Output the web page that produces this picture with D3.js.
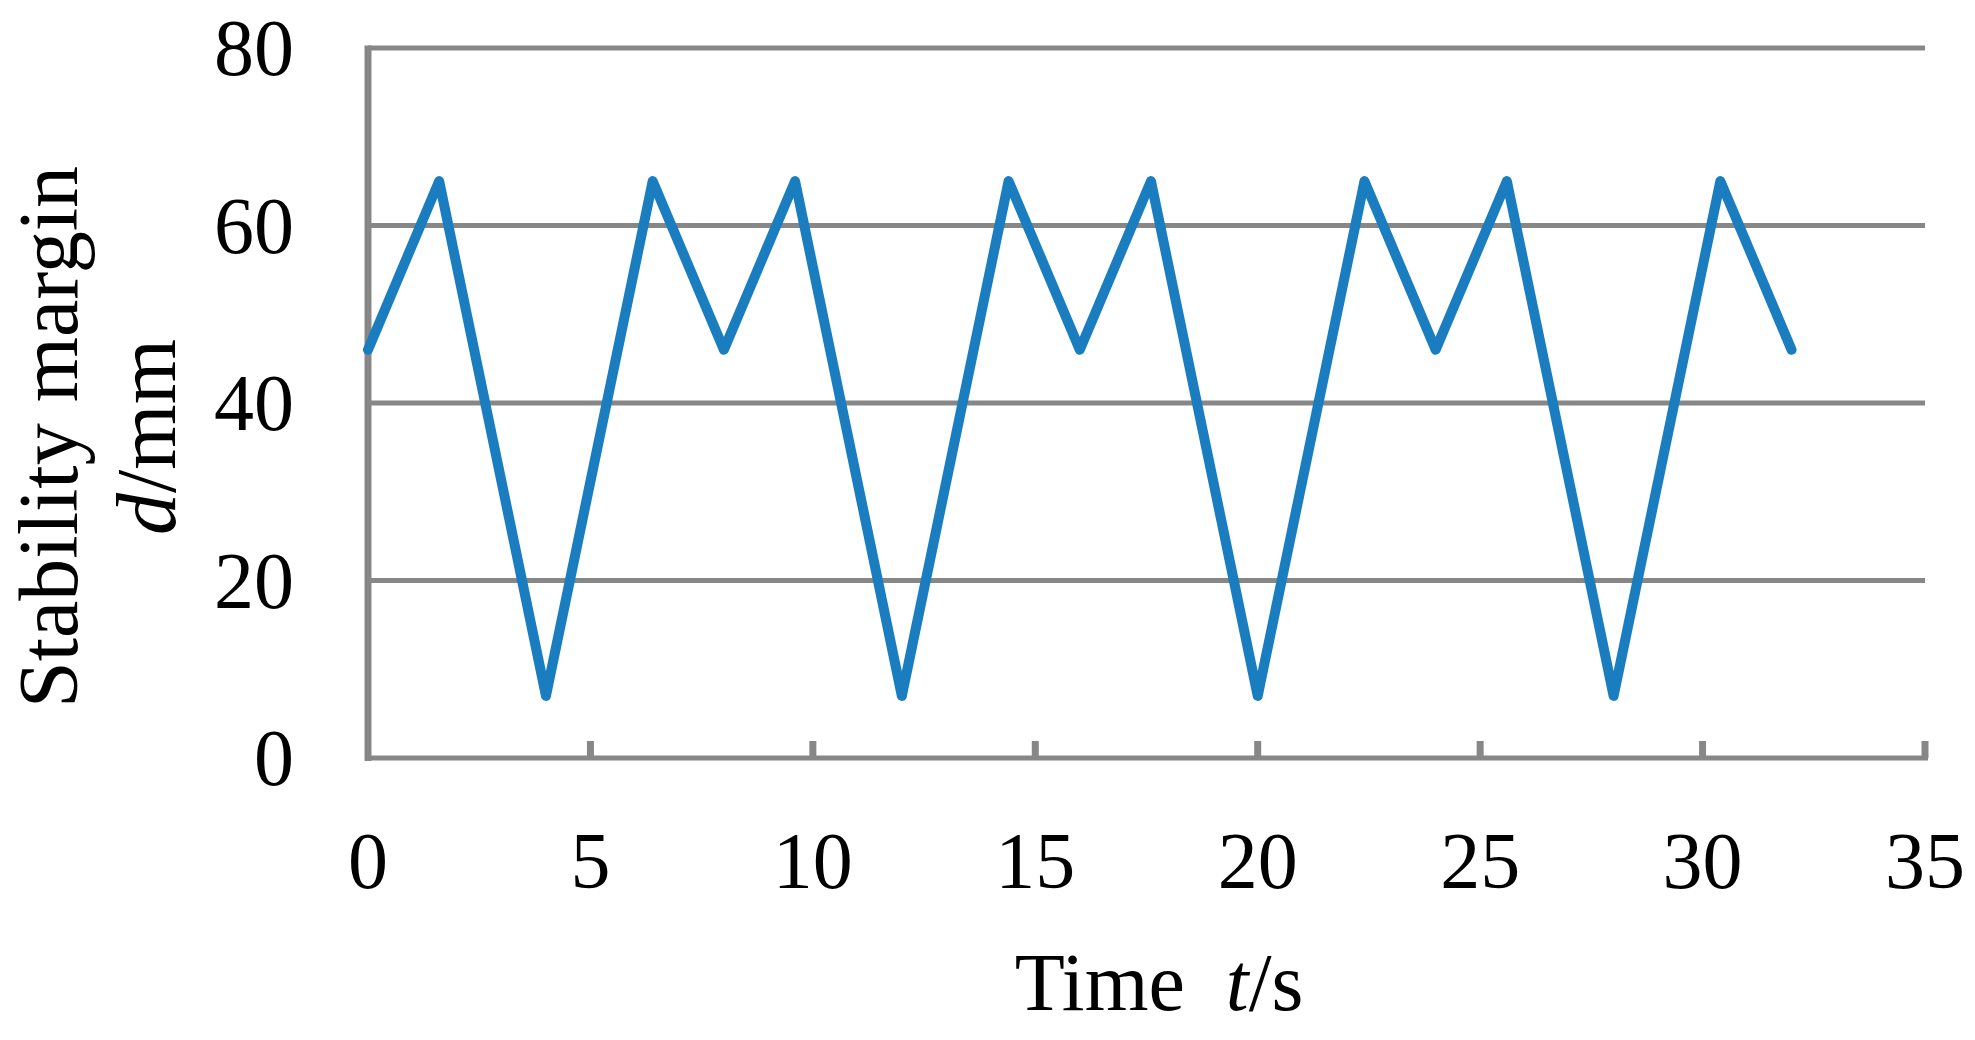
<!DOCTYPE html>
<html><head><meta charset="utf-8">
<script src="https://cdn.jsdelivr.net/npm/d3@7"></script>
<style>body{margin:0;background:#fff}svg{display:block}text{font-family:"Liberation Serif","Times New Roman",serif;fill:#000}</style>
</head><body>
<svg id="c" width="1975" height="1040"></svg>
<script>
const timeValues = [0,1.6,4,6.4,8,9.6,12,14.4,16,17.6,20,22.4,24,25.6,28,30.4,32];
const marginValues = [46,65,7,65,46,65,7,65,46,65,7,65,46,65,7,65,46];
const xTicks = [0,5,10,15,20,25,30,35];
const yTicks = [0,20,40,60,80];

const svg = d3.select("#c");
const x = d3.scaleLinear().domain([0,35]).range([368,1925]);
const y = d3.scaleLinear().domain([0,80]).range([758,48]);
const grid = "#878787";

svg.append("g").selectAll("line").data(yTicks.filter(d=>d>0)).join("line")
  .attr("x1",x(0)).attr("x2",x(35)).attr("y1",d=>y(d)).attr("y2",d=>y(d))
  .attr("stroke",grid).attr("stroke-width",5);
svg.append("line").attr("x1",x(0)).attr("x2",x(0)).attr("y1",y(80)-2.5).attr("y2",y(0)+3)
  .attr("stroke",grid).attr("stroke-width",7);
svg.append("line").attr("x1",x(0)).attr("x2",x(35)+3).attr("y1",y(0)).attr("y2",y(0))
  .attr("stroke",grid).attr("stroke-width",5);
svg.append("g").selectAll("line").data(xTicks.filter(d=>d>0)).join("line")
  .attr("x1",d=>x(d)).attr("x2",d=>x(d)).attr("y1",y(0)).attr("y2",y(0)-17)
  .attr("stroke",grid).attr("stroke-width",7);

svg.append("g").selectAll("text").data(yTicks).join("text")
  .attr("x",294).attr("y",d=>y(d)+27).attr("text-anchor","end")
  .attr("font-size",80).text(d=>d);
svg.append("g").selectAll("text").data(xTicks).join("text")
  .attr("x",d=>x(d)).attr("y",888).attr("text-anchor","middle")
  .attr("font-size",80).text(d=>d);

svg.append("path").datum(timeValues.map((t,i)=>[t,marginValues[i]]))
  .attr("d",d3.line().x(d=>x(d[0])).y(d=>y(d[1])))
  .attr("fill","none").attr("stroke","#1a7dc0").attr("stroke-width",10)
  .attr("stroke-linejoin","round").attr("stroke-linecap","round");

const xt = svg.append("text").attr("x",1159).attr("y",1010).attr("text-anchor","middle").attr("font-size",82);
xt.append("tspan").text("Time\u00a0\u00a0");
xt.append("tspan").attr("font-style","italic").text("t");
xt.append("tspan").text("/s");

svg.append("text").attr("transform","translate(77,437) rotate(-90)").attr("text-anchor","middle").attr("font-size",84)
  .text("Stability margin");
const yt2 = svg.append("text").attr("transform","translate(175,437) rotate(-90)").attr("text-anchor","middle").attr("font-size",84);
yt2.append("tspan").attr("font-style","italic").text("d");
yt2.append("tspan").text("/mm");
</script>
</body></html>
